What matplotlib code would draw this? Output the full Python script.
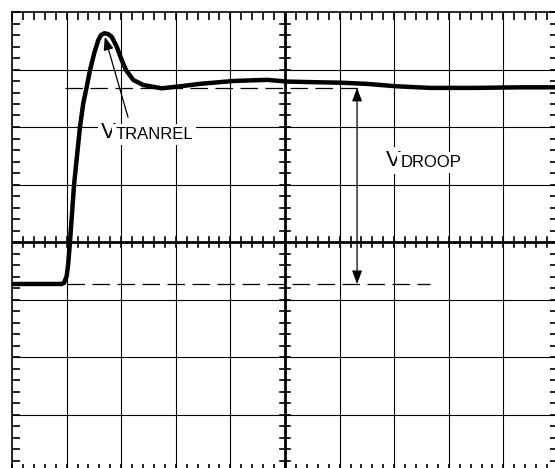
import numpy as np
import matplotlib.pyplot as plt

# Step response trace (x in divisions, y in divisions)
trace_x = [0.0, 0.916, 0.952, 1.002, 1.031, 1.062, 1.136, 1.245, 1.306, 1.368,
           1.429, 1.507, 1.581, 1.630, 1.690, 1.758, 1.826, 1.918, 2.009, 2.088,
           2.222, 2.405, 2.742, 3.10, 3.44, 4.05, 4.67, 5.04, 5.50, 6.04, 6.50,
           7.01, 7.66, 8.50, 9.30, 10.0]
trace_y = [-0.73, -0.73, -0.713, -0.591, -0.365, 0.0, 0.991, 2.0, 2.417, 2.696,
           2.991, 3.287, 3.513, 3.60, 3.63, 3.617, 3.57, 3.397, 3.165, 2.991,
           2.817, 2.73, 2.673, 2.71, 2.75, 2.80, 2.82, 2.79, 2.78, 2.77, 2.75,
           2.71, 2.68, 2.68, 2.69, 2.69]

v_final = 2.68      # settled level
v_initial = -0.73   # starting level
peak = (1.70, 3.57)
droop_x = 6.32

fig = plt.figure(figsize=(5.55, 4.68), dpi=100)
ax = fig.add_axes([12 / 555, -4 / 468, 546 / 555, 460 / 468])
ax.set_xlim(0, 10)
ax.set_ylim(-4, 4)

# graticule
for x in range(1, 10):
    ax.axvline(x, color='black', lw=0.8, zorder=1)
for y in range(-3, 4):
    ax.axhline(y, color='black', lw=0.8, zorder=1)
ax.axvline(5, color='black', lw=2.0, zorder=2)
ax.axhline(0, color='black', lw=2.0, zorder=2)
for s in ax.spines.values():
    s.set_linewidth(1.2)

ax.set_xticks(np.arange(0, 11, 1))
ax.set_yticks(np.arange(-4, 5, 1))
ax.set_xticks(np.arange(0, 10.01, 0.2), minor=True)
ax.set_yticks(np.arange(-4, 4.01, 0.2), minor=True)
ax.tick_params(which='both', direction='in', top=True, right=True, length=6,
               width=1.2, labelbottom=False, labelleft=False)

# ticks on the center cross
hx, hy = 5 / 54.6, 5 / 57.5
for t in np.arange(0.2, 10, 0.2):
    ax.plot([t, t], [-hy, hy], color='black', lw=1.2, zorder=2)
for t in np.arange(-3.8, 4, 0.2):
    ax.plot([5 - hx, 5 + hx], [t, t], color='black', lw=1.2, zorder=2)

# reference dashes
ax.plot([0.97, 6.41], [v_final, v_final], color='black', lw=0.9,
        dashes=(14, 6), zorder=3)
ax.plot([1.0, 7.66], [v_initial, v_initial], color='black', lw=0.9,
        dashes=(14, 6), zorder=3)

# the trace
ax.plot(trace_x, trace_y, color='black', lw=3.2, solid_capstyle='round',
        solid_joinstyle='round', zorder=5)

# droop arrow
ax.annotate('', xy=(droop_x, v_final), xytext=(droop_x, v_initial),
            arrowprops=dict(arrowstyle='<|-|>,head_length=0.8,head_width=0.3',
                            color='black', lw=0.9, shrinkA=0, shrinkB=0),
            zorder=4)
# transient arrow
ax.annotate('', xy=peak, xytext=(2.125, 2.17),
            arrowprops=dict(arrowstyle='-|>,head_length=0.8,head_width=0.3',
                            color='black', lw=0.9, shrinkA=0, shrinkB=0),
            zorder=4)

box = dict(facecolor='white', edgecolor='none', pad=2)
font = 'Liberation Sans'
ax.text(1.63, 1.81, 'V', fontsize=16, family=font, va='baseline', ha='left',
        bbox=box, zorder=6)
ax.text(1.89, 1.79, 'TRANREL', fontsize=12, family=font, va='baseline',
        ha='left', bbox=box, zorder=6)
ax.text(6.85, 1.32, 'V', fontsize=16, family=font, va='baseline', ha='left',
        bbox=box, zorder=6)
ax.text(7.11, 1.30, 'DROOP', fontsize=12, family=font, va='baseline',
        ha='left', bbox=box, zorder=6)

fig.savefig('out.png', dpi=100)
